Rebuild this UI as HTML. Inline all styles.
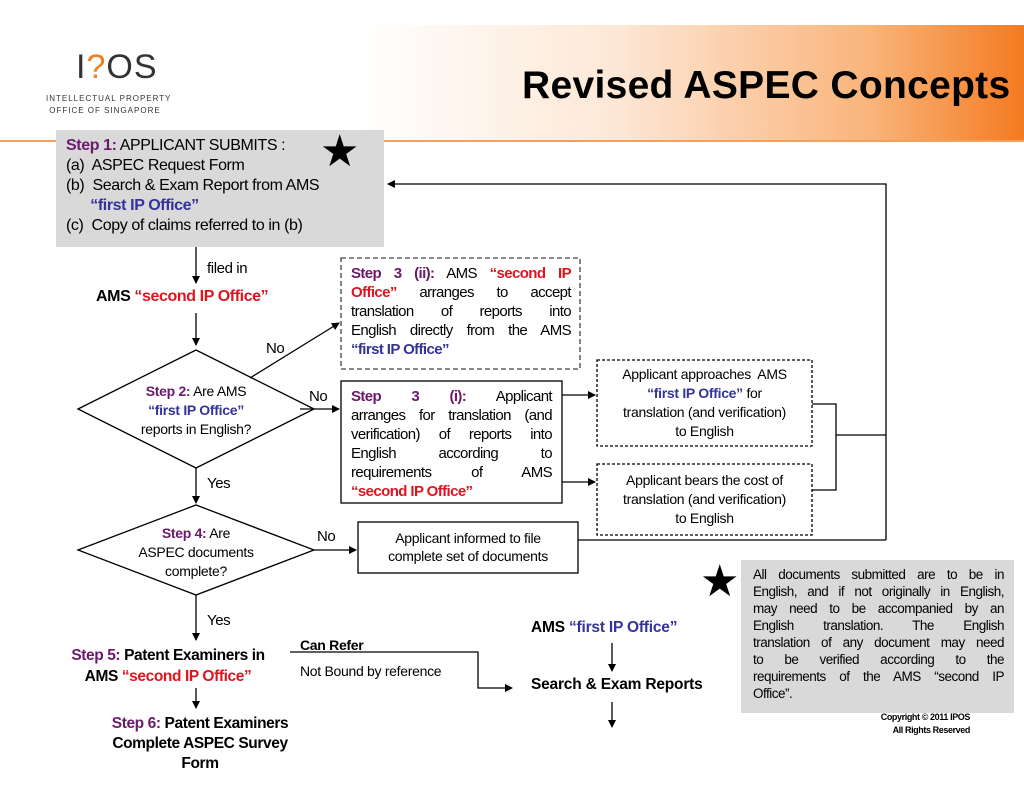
<!DOCTYPE html>
<html><head><meta charset="utf-8"><style>
body{margin:0;width:1024px;height:788px;position:relative;background:#fff;font-family:"Liberation Sans",Arial,sans-serif;overflow:hidden;color:#000;letter-spacing:-0.4px}
.a{position:absolute;white-space:nowrap}
.p{color:#6b1a6b;font-weight:bold}
.r{color:#e0141e;font-weight:bold}
.b{color:#333399;font-weight:bold}
.jl{display:block;text-align:justify;text-align-last:justify}
</style></head><body>
<div class="a" style="left:0;top:25px;width:1024px;height:115px;background:linear-gradient(to right,#fff 0%,#fff 35%,#fde8d6 60%,#f9b47a 85%,#f47a20 100%)"></div>
<div class="a" style="left:0;top:140px;width:1024px;height:2px;background:#f0a060"></div>
<div class="a" style="left:76px;top:48px;font-size:34px;letter-spacing:1px;color:#333">I<span style="color:#f08020">?</span>OS</div>
<div class="a" style="left:46px;top:93px;font-size:8px;letter-spacing:1px;color:#333;line-height:12px">INTELLECTUAL PROPERTY<br>&nbsp;OFFICE OF SINGAPORE</div>
<div class="a" style="left:522px;top:64px;font-size:39px;font-weight:bold;color:#000;letter-spacing:0.3px">Revised ASPEC Concepts</div>

<div class="a" style="left:56px;top:130px;width:328px;height:117px;background:#d9d9d9;padding-left:10px;font-size:16px;line-height:20px;padding-top:6px;box-sizing:border-box;letter-spacing:-0.4px">
<span class="p">Step 1:</span> APPLICANT SUBMITS :<br>(a)&nbsp; ASPEC Request Form<br>(b)&nbsp; Search &amp; Exam Report from AMS<br>&nbsp;&nbsp;&nbsp;&nbsp;&nbsp;&nbsp;<span class="b">“first IP Office”</span><br>(c)&nbsp; Copy of claims referred to in (b)</div>
<div class="a" style="left:320px;top:130px;font-size:44px;line-height:44px">★</div>

<svg class="a" style="left:0;top:0" width="1024" height="788">
<defs><marker id="m" markerWidth="8" markerHeight="8" refX="7" refY="4" orient="auto" markerUnits="userSpaceOnUse"><path d="M0,0L8,4L0,8z" fill="#000"/></marker></defs>
<g stroke="#000" stroke-width="1.3" fill="none">
<path d="M886,540V184H388" marker-end="url(#m)"/>
<path d="M578,540H886M836,435H886M812,404H836V490H812"/>
<path d="M196,247V283" marker-end="url(#m)"/>
<path d="M196,313V345" marker-end="url(#m)"/>
<path d="M78,409L196,350L314,409L196,468Z" fill="#fff"/>
<path d="M250,378L339,323" marker-end="url(#m)"/>
<path d="M300,409H339" marker-end="url(#m)"/>
<path d="M562,395H595" marker-end="url(#m)"/>
<path d="M562,482H595" marker-end="url(#m)"/>
<path d="M196,468V503" marker-end="url(#m)"/>
<path d="M78,550L196,505L314,550L196,595Z" fill="#fff"/>
<path d="M314,550H356" marker-end="url(#m)"/>
<path d="M196,595V640" marker-end="url(#m)"/>
<path d="M196,688V708" marker-end="url(#m)"/>
<path d="M290,652H478V688H512" marker-end="url(#m)"/>
<path d="M612,643V671" marker-end="url(#m)"/>
<path d="M612,702V727" marker-end="url(#m)"/>
</g>
<rect x="341" y="258" width="239" height="111" fill="none" stroke="#444" stroke-width="1.3" stroke-dasharray="5,3"/>
<rect x="341" y="381" width="221" height="122" fill="#fff" stroke="#000" stroke-width="1.3"/>
<rect x="597" y="360" width="215" height="86" fill="none" stroke="#000" stroke-width="1.3" stroke-dasharray="3,2"/>
<rect x="597" y="464" width="215" height="71" fill="none" stroke="#000" stroke-width="1.3" stroke-dasharray="3,2"/>
<rect x="358" y="522" width="220" height="51" fill="#fff" stroke="#000" stroke-width="1.3"/>
</svg>

<div class="a" style="left:207px;top:260px;font-size:15px">filed in</div>
<div class="a" style="left:96px;top:288px;font-size:16px;font-weight:bold;letter-spacing:-0.4px">AMS <span class="r">“second IP Office”</span></div>
<div class="a" style="left:266px;top:340px;font-size:15px">No</div>
<div class="a" style="left:309px;top:388px;font-size:15px">No</div>
<div class="a" style="left:106px;top:382px;width:180px;text-align:center;font-size:14px;line-height:19px;letter-spacing:-0.3px"><span class="p">Step 2:</span> Are AMS<br><span class="b">“first IP Office”</span><br>reports in English?</div>
<div class="a" style="left:351px;top:264px;width:220px;font-size:15px;line-height:19px;letter-spacing:-0.6px">
<span class="jl"><span class="p">Step 3 (ii):</span> AMS <span class="r">“second IP</span></span>
<span class="jl"><span class="r">Office”</span> arranges to accept</span>
<span class="jl">translation of reports into</span>
<span class="jl">English directly from the AMS</span>
<span class="b">“first IP Office”</span></div>
<div class="a" style="left:351px;top:387px;width:201px;font-size:15px;line-height:19px;letter-spacing:-0.6px">
<span class="jl"><span class="p">Step 3 (i):</span> Applicant</span>
<span class="jl">arranges for translation (and</span>
<span class="jl">verification) of reports into</span>
<span class="jl">English according to</span>
<span class="jl">requirements of AMS</span>
<span class="r">“second IP Office”</span></div>
<div class="a" style="left:599px;top:365px;width:211px;text-align:center;font-size:14px;line-height:19px;letter-spacing:-0.3px">Applicant approaches&nbsp; AMS<br><span class="b">“first IP Office”</span> for<br>translation (and verification)<br>to English</div>
<div class="a" style="left:599px;top:471px;width:211px;text-align:center;font-size:14px;line-height:19px;letter-spacing:-0.3px">Applicant bears the cost of<br>translation (and verification)<br>to English</div>
<div class="a" style="left:207px;top:475px;font-size:15px">Yes</div>
<div class="a" style="left:116px;top:524px;width:160px;text-align:center;font-size:14px;line-height:19px;letter-spacing:-0.3px"><span class="p">Step 4:</span> Are<br>ASPEC documents<br>complete?</div>
<div class="a" style="left:317px;top:528px;font-size:15px">No</div>
<div class="a" style="left:358px;top:529px;width:220px;text-align:center;font-size:14px;line-height:18px;letter-spacing:-0.3px">Applicant informed to file<br>complete set of documents</div>
<div class="a" style="left:207px;top:612px;font-size:15px">Yes</div>
<div class="a" style="left:40px;top:645px;width:256px;text-align:center;font-size:15.5px;line-height:21px;font-weight:bold;letter-spacing:-0.4px"><span class="p">Step 5:</span> Patent Examiners in<br>AMS <span class="r">“second IP Office”</span></div>
<div class="a" style="left:90px;top:714px;width:220px;text-align:center;font-size:15.5px;line-height:20px;font-weight:bold;letter-spacing:-0.4px"><span class="p">Step 6:</span> Patent Examiners<br>Complete ASPEC Survey<br>Form</div>
<div class="a" style="left:300px;top:637px;font-size:14px;font-weight:bold;letter-spacing:-0.3px">Can Refer</div>
<div class="a" style="left:300px;top:663px;font-size:14px;letter-spacing:-0.3px">Not Bound by reference</div>
<div class="a" style="left:531px;top:619px;font-size:15.5px;font-weight:bold;letter-spacing:-0.2px">AMS <span class="b">“first IP Office”</span></div>
<div class="a" style="left:531px;top:676px;font-size:15.5px;font-weight:bold;letter-spacing:-0.2px">Search &amp; Exam Reports</div>
<div class="a" style="left:741px;top:560px;width:273px;height:153px;background:#d9d9d9;box-sizing:border-box;padding:6px 10px 0 12px;font-size:13.5px;line-height:17px;letter-spacing:-0.5px">
<span class="jl">All documents submitted are to be in</span>
<span class="jl">English, and if not originally in English,</span>
<span class="jl">may need to be accompanied by an</span>
<span class="jl">English translation. The English</span>
<span class="jl">translation of any document may need</span>
<span class="jl">to be verified according to the</span>
<span class="jl">requirements of the AMS “second IP</span>
Office”.</div>
<div class="a" style="left:700px;top:560px;font-size:44px;line-height:44px">★</div>
<div class="a" style="left:830px;top:711px;width:140px;text-align:right;font-size:9px;font-weight:bold;line-height:13px">Copyright © 2011 IPOS<br>All Rights Reserved</div>
</body></html>
